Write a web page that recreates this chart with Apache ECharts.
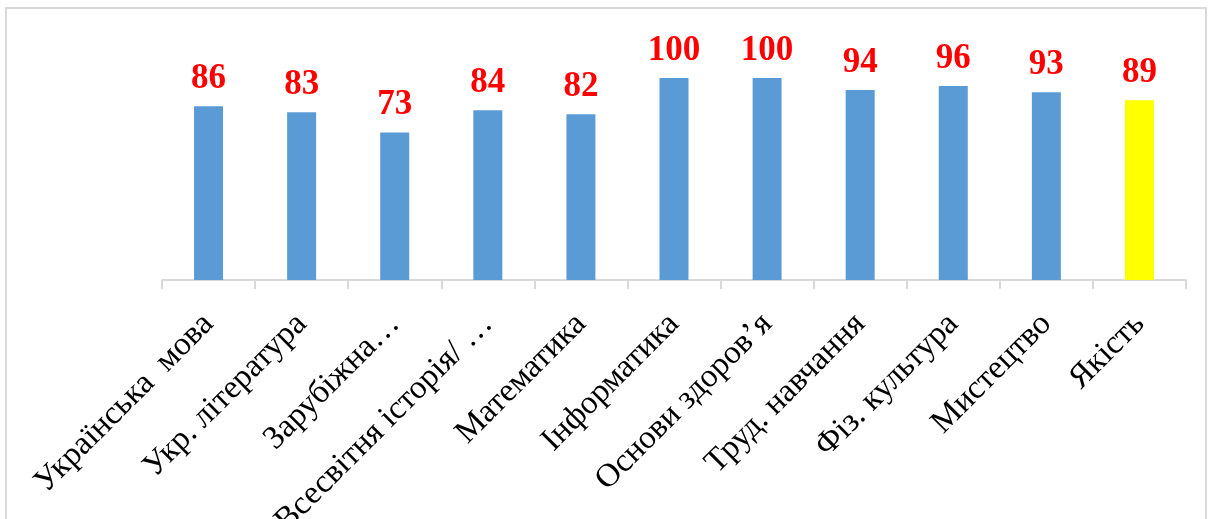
<!DOCTYPE html>
<html>
<head>
<meta charset="utf-8">
<script src="https://cdn.jsdelivr.net/npm/echarts@6/dist/echarts.min.js"></script>
<style>
  html, body { margin: 0; padding: 0; background: #fff; }
  #chart { width: 1212px; height: 519px; }
</style>
</head>
<body>
<div id="chart"></div>
<script>
// subjects
var categories = [
  "Українська  мова",
  "Укр. література",
  "Зарубіжна…",
  "Всесвітня історія/ …",
  "Математика",
  "Інформатика",
  "Основи здоров’я",
  "Труд. навчання",
  "Фіз. культура",
  "Мистецтво",
  "Якість"
];
// percent per subject
var values = [86, 83, 73, 84, 82, 100, 100, 94, 96, 93, 89];
var highlightName = "Якість";

var chart = echarts.init(document.getElementById("chart"));

chart.setOption({
  animation: false,
  graphic: [
    {
      type: "rect",
      shape: { x: 6, y: 8, width: 1200, height: 520 },
      style: { fill: "none", stroke: "#d9d9d9", lineWidth: 2 }
    }
  ],
  grid: {
    left: 162,
    right: 26,
    top: 78,
    bottom: 239,
    containLabel: false,
    outerBoundsMode: "none"
  },
  xAxis: {
    type: "category",
    data: categories,
    axisLine: { lineStyle: { color: "#d9d9d9", width: 2 } },
    axisTick: { show: true, length: 9, lineStyle: { color: "#d9d9d9", width: 2 } },
    axisLabel: {
      interval: 0,
      rotate: 45,
      margin: 39,
      verticalAlign: "middle",
      color: "#000",
      fontFamily: "Liberation Serif, Times New Roman, serif",
      fontSize: 33
    }
  },
  yAxis: {
    type: "value",
    min: 0,
    max: 100,
    show: false,
    splitLine: { show: false }
  },
  series: [
    {
      type: "bar",
      barWidth: 29,
      data: values.map(function (v, i) {
        return {
          value: v,
          itemStyle: { color: categories[i] === highlightName ? "#ffff00" : "#5b9bd5" }
        };
      }),
      label: {
        show: true,
        position: "top",
        distance: 10,
        color: "#ff0000",
        fontWeight: "bold",
        fontFamily: "Liberation Serif, Times New Roman, serif",
        fontSize: 35
      }
    }
  ]
});
</script>
</body>
</html>
